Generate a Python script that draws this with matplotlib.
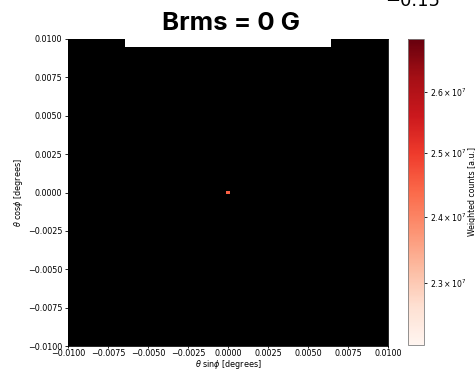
import numpy as np
import matplotlib
matplotlib.use("Agg")
import matplotlib.pyplot as plt
from matplotlib.colors import LogNorm
from matplotlib.patches import Rectangle

# ---------------- DATA ----------------
X_EDGES_LIM = (-0.01, 0.01)     # degrees
Y_EDGES_LIM = (-0.01, 0.01)
N_BINS = 101
hit_x = [0.0]                   # theta sin(phi) [deg]
hit_y = [0.0]                   # theta cos(phi) [deg]
hit_w = [2.45e7]                # weighted counts
C_MIN, C_MAX = 2.21e7, 2.69e7
TITLE = "Brms = 0 G"
CORNER_TEXT = "\u22120.15"

# ---------------- HISTOGRAM ----------------
xe = np.linspace(*X_EDGES_LIM, N_BINS + 1)
ye = np.linspace(*Y_EDGES_LIM, N_BINS + 1)
H, _, _ = np.histogram2d(hit_x, hit_y, bins=[xe, ye], weights=hit_w)
H = np.ma.masked_where(H <= 0, H).T

cmap = plt.get_cmap("Reds").copy()
cmap.set_bad("black")

fig = plt.figure(figsize=(4.75, 3.7), dpi=100)
ax = fig.add_axes([68 / 475, 1 - 346 / 370, 320 / 475, 307 / 370])
cax = fig.add_axes([408 / 475, 1 - 345 / 370, 16 / 475, 306 / 370])

ax.set_facecolor("black")
mesh = ax.pcolormesh(xe, ye, H, cmap=cmap, norm=LogNorm(vmin=C_MIN, vmax=C_MAX))
ax.set_xlim(*X_EDGES_LIM)
ax.set_ylim(*Y_EDGES_LIM)
ticks = np.linspace(-0.01, 0.01, 9)
ax.set_xticks(ticks)
ax.set_yticks(ticks)
ax.set_xticklabels([f"{t:.4f}".replace("-", "\u2212") for t in ticks])
ax.set_yticklabels([f"{t:.4f}".replace("-", "\u2212") for t in ticks])
ax.tick_params(labelsize=5.8, length=2.5, width=0.6, pad=1.5)
ax.tick_params(axis="x", length=1.5, pad=0.3)
ax.set_xlabel(r"$\theta$ sin$\phi$ [degrees]", fontsize=5.8, labelpad=0.5)
ax.set_ylabel(r"$\theta$ cos$\phi$ [degrees]", fontsize=5.8, labelpad=2)
for s in ax.spines.values():
    s.set_linewidth(0.6)

cb = fig.colorbar(mesh, cax=cax)
cb.ax.tick_params(labelsize=5.6, which="both", length=2.5, width=0.6, pad=1.5)
cb.set_label("Weighted counts [a.u.]", fontsize=5.6, labelpad=1)
cb.outline.set_edgecolor("0.5")
cb.outline.set_linewidth(0.6)

# title panel
fig.patches.append(Rectangle((125 / 475, 1 - 47 / 370), 206 / 475, 47 / 370,
                             transform=fig.transFigure, facecolor="white",
                             edgecolor="none", zorder=5))
fig.text(231 / 475, 1 - 30 / 370, TITLE, ha="center", va="baseline",
         fontsize=18.5, fontweight="bold", family="Inter", zorder=6)
fig.text(413 / 475, 1 - 6 / 370, CORNER_TEXT, ha="center", va="baseline",
         fontsize=13, zorder=6)

fig.savefig("out.png", dpi=100)
